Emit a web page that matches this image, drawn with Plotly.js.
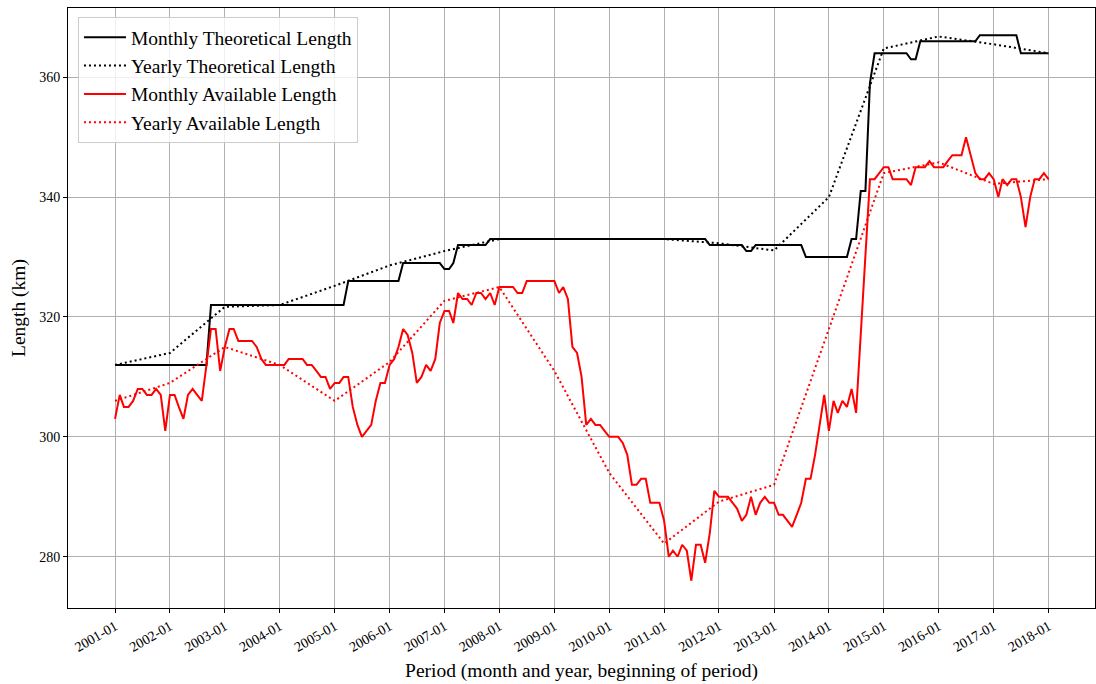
<!DOCTYPE html>
<html>
<head>
<meta charset="utf-8">
<script src="https://cdn.plot.ly/plotly-3.0.1.min.js"></script>
<style>html,body{margin:0;padding:0;background:#fff;}#chart{width:1096px;height:684px;}</style>
</head>
<body>
<div id="chart"></div>
<script>
// ---- data ----
const startYear = 2001, startMonth = 1, monthCount = 205; // 2001-01 .. 2018-01
const yearLabels = [2001,2002,2003,2004,2005,2006,2007,2008,2009,2010,2011,2012,2013,2014,2015,2016,2017,2018];

const monthlyTheoretical = [
  312,312,312,312,312,312,312,312,312,312,312,312, // 2001
  312,312,312,312,312,312,312,312,312,322,322,322, // 2002
  322,322,322,322,322,322,322,322,322,322,322,322, // 2003
  322,322,322,322,322,322,322,322,322,322,322,322, // 2004
  322,322,322,326,326,326,326,326,326,326,326,326, // 2005
  326,326,326,329,329,329,329,329,329,329,329,329, // 2006
  328,328,329,332,332,332,332,332,332,332,333,333, // 2007
  333,333,333,333,333,333,333,333,333,333,333,333, // 2008
  333,333,333,333,333,333,333,333,333,333,333,333, // 2009
  333,333,333,333,333,333,333,333,333,333,333,333, // 2010
  333,333,333,333,333,333,333,333,333,333,332,332, // 2011
  332,332,332,332,332,332,331,331,332,332,332,332, // 2012
  332,332,332,332,332,332,332,330,330,330,330,330, // 2013
  330,330,330,330,330,333,333,341,341,359,364,364, // 2014
  364,364,364,364,364,364,363,363,366,366,366,366, // 2015
  366,366,366,366,366,366,366,366,366,367,367,367, // 2016
  367,367,367,367,367,367,364,364,364,364,364,364, // 2017
  364                                              // 2018-01
];

const monthlyAvailable = [
  303,307,305,305,306,308,308,307,307,308,307,301, // 2001
  307,307,305,303,307,308,307,306,312,318,318,311, // 2002
  315,318,318,316,316,316,316,315,313,312,312,312, // 2003
  312,312,313,313,313,313,312,312,311,310,310,308, // 2004
  309,309,310,310,305,302,300,301,302,306,309,309, // 2005
  312,313,315,318,317,314,309,310,312,311,313,319, // 2006
  321,321,319,324,323,323,322,324,324,323,324,322, // 2007
  325,325,325,325,324,324,326,326,326,326,326,326, // 2008
  326,324,325,323,315,314,310,302,303,302,302,301, // 2009
  300,300,300,299,297,292,292,293,293,289,289,289, // 2010
  286,280,281,280,282,281,276,282,282,279,284,291, // 2011
  290,290,290,289,288,286,287,290,287,289,290,289, // 2012
  289,287,287,286,285,287,289,293,293,297,302,307, // 2013
  301,306,304,306,305,308,304,317,330,343,343,344, // 2014
  345,345,343,343,343,343,342,345,345,345,346,345, // 2015
  345,345,346,347,347,347,350,347,344,343,343,344, // 2016
  343,340,343,342,343,343,340,335,340,343,343,344, // 2017
  343                                              // 2018-01
];

const yearlyTheoretical = [312,314,321.7,322,325.2,328.6,331,333,333,333,333,332.3,331.1,340,364.8,366.8,365.5,364];
const yearlyAvailable   = [306,309,315,312,306,312.5,322.7,325,311,294,282.2,289.2,292,318,344,345.8,342.2,343];

// ---- x positions (dates) ----
const months = [];
for (let i = 0; i < monthCount; i++) {
  const y = startYear + Math.floor((startMonth - 1 + i) / 12);
  const m = ((startMonth - 1 + i) % 12) + 1;
  months.push(y + '-' + String(m).padStart(2, '0') + '-01');
}
const years = yearLabels.map(y => y + '-01-01');

const FONT = '"Liberation Serif", "DejaVu Serif", serif';

const traces = [
  {x: months, y: monthlyTheoretical, name: 'Monthly Theoretical Length', mode: 'lines',
   line: {color: '#000000', width: 2}},
  {x: years, y: yearlyTheoretical, name: 'Yearly Theoretical Length', mode: 'lines',
   line: {color: '#000000', width: 2, dash: '2px,3px'}},
  {x: months, y: monthlyAvailable, name: 'Monthly Available Length', mode: 'lines',
   line: {color: '#ff0000', width: 2}},
  {x: years, y: yearlyAvailable, name: 'Yearly Available Length', mode: 'lines',
   line: {color: '#ff0000', width: 2, dash: '2px,3px'}}
];

const layout = {
  width: 1096, height: 684,
  margin: {l: 68, r: 1, t: 8, b: 76},
  paper_bgcolor: '#ffffff', plot_bgcolor: '#ffffff',
  font: {family: FONT, color: '#000000', size: 14},
  showlegend: true,
  legend: {
    x: 0.0097, y: 0.985, xanchor: 'left', yanchor: 'top',
    bgcolor: 'rgba(255,255,255,0.8)', bordercolor: '#cccccc', borderwidth: 1,
    itemwidth: 42,
    font: {family: FONT, size: 19.5, color: '#000000'}
  },
  xaxis: {
    type: 'date',
    range: ['2000-02-23', '2018-11-06'],
    tick0: '2001-01-01', dtick: 'M12', tickformat: '%Y-%m',
    tickangle: -30,
    tickfont: {family: FONT, size: 14},
    showgrid: true, gridcolor: '#b0b0b0', gridwidth: 1,
    showline: true, linecolor: '#000000', linewidth: 1, mirror: true,
    ticks: 'outside', ticklen: 4, tickcolor: '#000000',
    zeroline: false,
    title: {text: 'Period (month and year, beginning of period)', font: {family: FONT, size: 19.5}, standoff: 9}
  },
  yaxis: {
    range: [271.45, 371.55],
    tick0: 280, dtick: 20,
    tickfont: {family: FONT, size: 14},
    showgrid: true, gridcolor: '#b0b0b0', gridwidth: 1,
    showline: true, linecolor: '#000000', linewidth: 1, mirror: true,
    ticks: 'outside', ticklen: 4, tickcolor: '#000000',
    zeroline: false,
    title: {text: 'Length (km)', font: {family: FONT, size: 19.5}, standoff: 8}
  }
};

Plotly.newPlot('chart', traces, layout, {displayModeBar: false, staticPlot: true});
</script>
</body>
</html>
